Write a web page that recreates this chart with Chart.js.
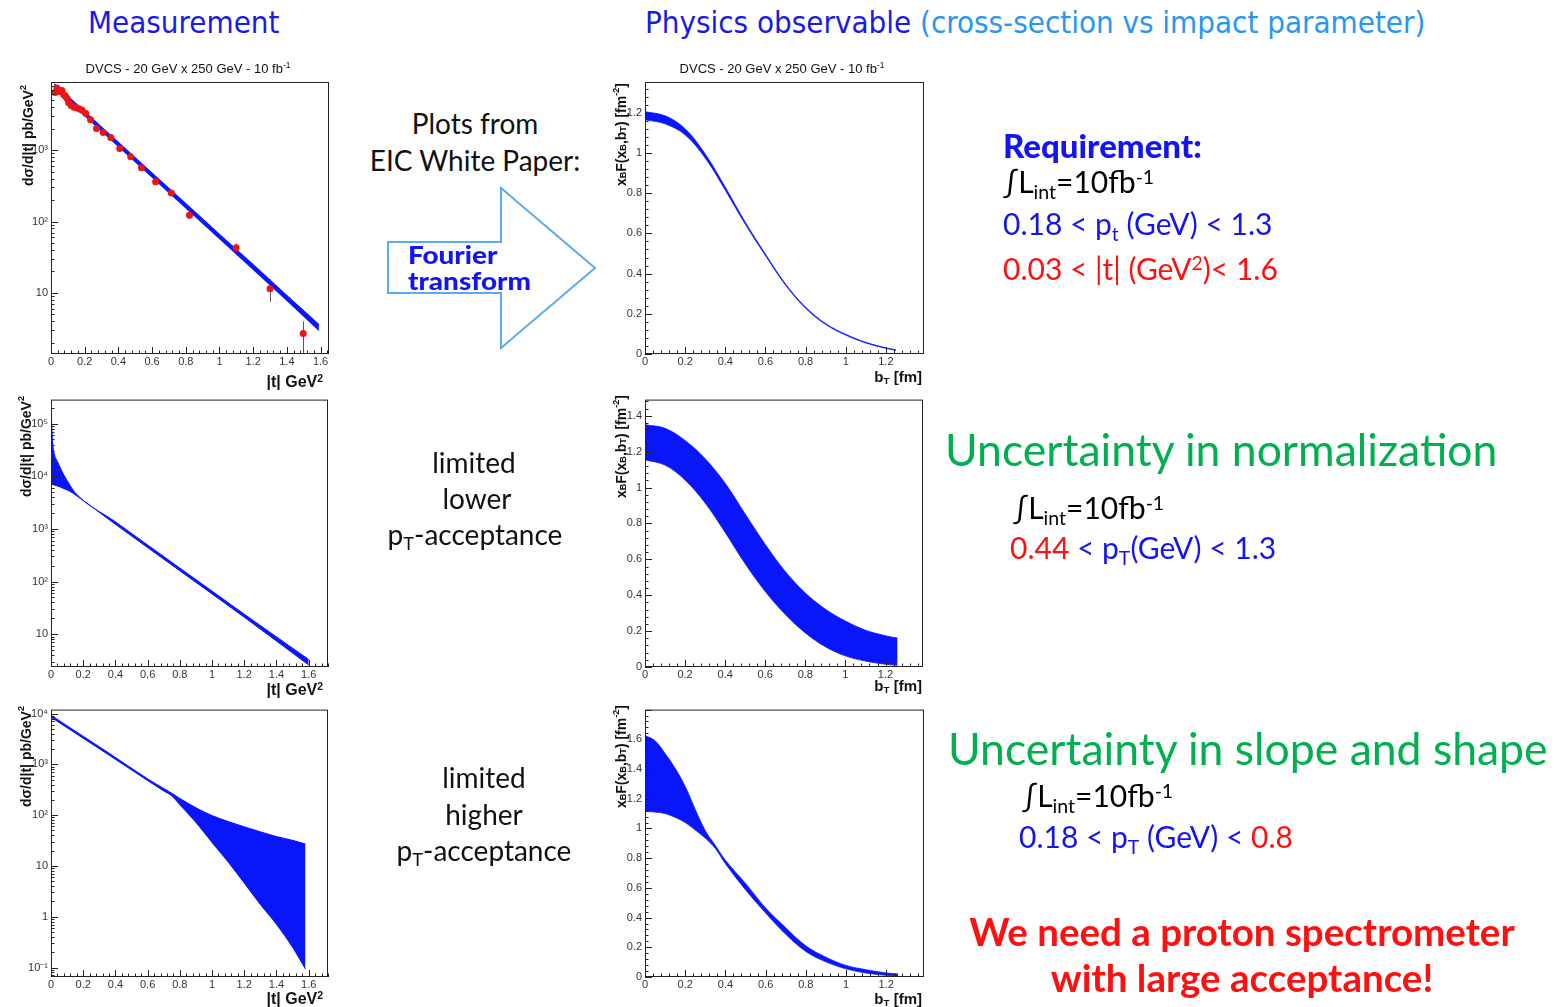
<!DOCTYPE html>
<html lang="en">
  <head>
    <meta charset="utf-8" />
    <title>DVCS acceptance slide</title>
    <style>
      * { margin: 0; padding: 0; }
      body { width: 1558px; height: 1007px; background: #fff; position: relative; overflow: hidden; font-family: Lato, "Open Sans", sans-serif; }
      canvas { position: absolute; }
      .t { position: absolute; white-space: nowrap; line-height: 1; }
      .c { transform: translate(-50%, -50%); }
      .l { transform: translate(0, -50%); }
      .r { transform: translate(-100%, -50%); }
      .yt { position: absolute; white-space: nowrap; line-height: 1; writing-mode: vertical-rl; transform: rotate(180deg);
            font: bold 14px "Liberation Sans", Arial, sans-serif; color: #111; }
      .ax { font: bold 16px "Liberation Sans", Arial, sans-serif; color: #111; }
      .ax2 { font: bold 15px "Liberation Sans", Arial, sans-serif; color: #111; }
      .pt { font: 13px "Liberation Sans", Arial, sans-serif; color: #111; }
      .hd { font-family: "DejaVu Sans Condensed", "DejaVu Sans", sans-serif; font-stretch: condensed; font-size: 31px; }
      .mid { font-size: 28px; color: #111; }
      .req { font-size: 30px; }
      .green { font-size: 44.5px; color: #00b050; }
      .big { font-size: 38.5px; font-weight: bold; color: #ff1010; }
      .ft { font-size: 24px; font-weight: 900; transform-origin: left center; transform: translate(0, -50%) scaleX(1.16); }
      sub { font-size: 0.65em; vertical-align: -0.3em; }
      sup { font-size: 0.65em; vertical-align: 0.5em; }
      .blue { color: #1414f0; }
      .red { color: #ff1010; }
    </style>
  </head>
  <body>
    <canvas id="c1" width="340" height="335" style="left:0;top:55px"></canvas>
    <canvas id="c2" width="340" height="335" style="left:600px;top:55px"></canvas>
    <canvas id="c3" width="340" height="310" style="left:0;top:390px"></canvas>
    <canvas id="c4" width="340" height="310" style="left:600px;top:390px"></canvas>
    <canvas id="c5" width="340" height="307" style="left:0;top:700px"></canvas>
    <canvas id="c6" width="340" height="307" style="left:600px;top:700px"></canvas>

    <!-- headers -->
    <div class="t l hd" style="left:88px;top:22px;color:#1a1ae6">Measurement</div>
    <div class="t l hd" style="left:645px;top:22px;color:#1a1ae6">Physics observable <span style="color:#2a96ee">(cross-section vs impact parameter)</span></div>

    <!-- plot titles -->
    <div class="t c pt" style="left:188px;top:68px">DVCS - 20 GeV x 250 GeV - 10 fb<sup>-1</sup></div>
    <div class="t c pt" style="left:782px;top:68px">DVCS - 20 GeV x 250 GeV - 10 fb<sup>-1</sup></div>

    <!-- axis titles -->
    <div class="yt" style="left:18px;top:85px">dσ/d|t| pb/GeV<sup>2</sup></div>
    <div class="yt" style="left:16px;top:396px">dσ/d|t| pb/GeV<sup>2</sup></div>
    <div class="yt" style="left:16px;top:706px">dσ/d|t| pb/GeV<sup>2</sup></div>
    <div class="yt" style="left:611px;top:83px">x<sub>B</sub>F(x<sub>B</sub>,b<sub>T</sub>) [fm<sup>-2</sup>]</div>
    <div class="yt" style="left:611px;top:395px">x<sub>B</sub>F(x<sub>B</sub>,b<sub>T</sub>) [fm<sup>-2</sup>]</div>
    <div class="yt" style="left:611px;top:705px">x<sub>B</sub>F(x<sub>B</sub>,b<sub>T</sub>) [fm<sup>-2</sup>]</div>
    <div class="t r ax" style="left:323px;top:382px">|t| GeV<sup>2</sup></div>
    <div class="t r ax" style="left:323px;top:690px">|t| GeV<sup>2</sup></div>
    <div class="t r ax" style="left:323px;top:999px">|t| GeV<sup>2</sup></div>
    <div class="t r ax2" style="left:922px;top:377px">b<sub>T</sub> [fm]</div>
    <div class="t r ax2" style="left:922px;top:686px">b<sub>T</sub> [fm]</div>
    <div class="t r ax2" style="left:922px;top:999px">b<sub>T</sub> [fm]</div>

    <!-- middle column -->
    <div class="t c mid" style="left:475px;top:123px">Plots from</div>
    <div class="t c mid" style="left:475px;top:160px">EIC White Paper:</div>
    <svg width="1558" height="1007" style="position:absolute;left:0;top:0;pointer-events:none">
      <polygon points="388,242 501,242 501,188 595,268 501,348 501,293 388,293" fill="none" stroke="#5aaaf0" stroke-width="2" />
    </svg>
    <div class="t ft blue" style="left:408px;top:255px">Fourier</div>
    <div class="t ft blue" style="left:408px;top:281px">transform</div>
    <div class="t c mid" style="left:474px;top:462px">limited</div>
    <div class="t c mid" style="left:477px;top:498px">lower</div>
    <div class="t c mid" style="left:475px;top:536px">p<sub>T</sub>-acceptance</div>
    <div class="t c mid" style="left:484px;top:777px">limited</div>
    <div class="t c mid" style="left:484px;top:814px">higher</div>
    <div class="t c mid" style="left:484px;top:852px">p<sub>T</sub>-acceptance</div>

    <!-- right column -->
    <div class="t l blue" style="left:1003px;top:145px;font-size:33px;font-weight:900">Requirement:</div>
    <div class="t l req" style="left:1003px;top:184px">∫L<sub>int</sub>=10fb<sup>-1</sup></div>
    <div class="t l req blue" style="left:1003px;top:226px">0.18 &lt; p<sub>t</sub> (GeV) &lt; 1.3</div>
    <div class="t l req red" style="left:1003px;top:268px">0.03 &lt; |t| (GeV<sup>2</sup>)&lt; 1.6</div>

    <div class="t l green" style="left:945px;top:449px">Uncertainty in normalization</div>
    <div class="t l req" style="left:1013px;top:510px">∫L<sub>int</sub>=10fb<sup>-1</sup></div>
    <div class="t l req blue" style="left:1010px;top:550px"><span class="red">0.44</span> &lt; p<sub>T</sub>(GeV) &lt; 1.3</div>

    <div class="t l green" style="left:948px;top:748px">Uncertainty in slope and shape</div>
    <div class="t l req" style="left:1022px;top:798px">∫L<sub>int</sub>=10fb<sup>-1</sup></div>
    <div class="t l req blue" style="left:1019px;top:839px">0.18 &lt; p<sub>T</sub> (GeV) &lt; <span class="red">0.8</span></div>

    <div class="t c big" style="left:1242px;top:931px">We need a proton spectrometer</div>
    <div class="t c big" style="left:1242px;top:977px">with large acceptance!</div>

    <script src="https://cdn.jsdelivr.net/npm/chart.js@4.4.0/dist/chart.umd.min.js"></script>
    <script>
      // ---- measurement (top left): data points + fit band
      const measT = [0.025, 0.035, 0.045, 0.055, 0.065, 0.075, 0.085, 0.095, 0.105, 0.12, 0.135, 0.15, 0.17, 0.185,
                     0.207, 0.235, 0.27, 0.31, 0.355, 0.408, 0.473, 0.537, 0.621, 0.714, 0.822, 1.099, 1.3, 1.497];
      const measXsec = [6400, 7400, 6900, 6600, 6800, 6000, 5700, 5300, 4600, 4200, 4000, 3900, 3750, 3600,
                        3260, 2650, 2000, 1760, 1500, 1050, 807, 565, 359, 251, 122, 43, 11.5, 2.7];
      const measErr = [150, 160, 150, 150, 150, 140, 130, 120, 110, 100, 100, 95, 90, 90,
                       80, 70, 60, 55, 50, 40, 35, 28, 22, 18, 12, 6, 4, 1.3];
      const fitT = [0.02, 0.2, 0.4, 0.6, 0.8, 1.0, 1.2, 1.4, 1.59];
      const fitLow = [7400, 3050, 1130, 420, 156, 58, 21.5, 7.9, 3.0];
      const fitHigh = [8400, 3450, 1280, 475, 178, 66, 24.8, 9.2, 3.6];

      // ---- physics observable (top right)
      const bT1 = [0, 0.1, 0.2, 0.3, 0.4, 0.5, 0.6, 0.7, 0.8, 0.9, 1.0, 1.1, 1.2, 1.25];
      const fb1Low = [1.165, 1.145, 1.09, 0.975, 0.815, 0.645, 0.49, 0.343, 0.228, 0.147, 0.094, 0.055, 0.028, 0.018];
      const fb1High = [1.205, 1.185, 1.12, 0.995, 0.83, 0.655, 0.497, 0.348, 0.233, 0.151, 0.098, 0.058, 0.031, 0.021];

      // ---- limited lower pT acceptance
      const tMid = [0, 0.005, 0.01, 0.02, 0.04, 0.06, 0.08, 0.1, 0.12, 0.15, 0.4, 0.8, 1.2, 1.6];
      const midHigh = [200000, 90000, 45000, 27000, 19000, 14000, 10500, 8300, 6600, 4850, 1360, 180, 24, 3.3];
      const midLow = [7400, 7200, 7000, 6800, 6500, 6200, 5800, 5500, 5100, 4450, 1220, 160, 21, 2.6];
      const bT2 = [0, 0.1, 0.2, 0.3, 0.4, 0.5, 0.6, 0.7, 0.8, 0.9, 1.0, 1.1, 1.2, 1.26];
      const fb2High = [1.35, 1.33, 1.262, 1.161, 1.024, 0.852, 0.683, 0.532, 0.412, 0.322, 0.256, 0.205, 0.174, 0.161];
      const fb2Low = [1.155, 1.125, 1.042, 0.914, 0.75, 0.575, 0.421, 0.293, 0.19, 0.113, 0.062, 0.033, 0.015, 0.01];

      // ---- limited higher pT acceptance
      const tLow = [0, 0.35, 0.6, 0.7, 0.75, 0.8, 0.9, 1.0, 1.1, 1.2, 1.3, 1.4, 1.5, 1.58];
      const lowHigh = [9300, 1750, 520, 335, 270, 214, 140, 98, 75, 59, 47, 38, 32, 27];
      const lowLow = [8500, 1600, 480, 300, 240, 160, 72, 29, 12, 4.6, 1.74, 0.71, 0.25, 0.093];
      const bT3 = [0, 0.05, 0.1, 0.15, 0.2, 0.25, 0.3, 0.35, 0.4, 0.5, 0.6, 0.7, 0.8, 0.9, 1.0, 1.1, 1.2, 1.26];
      const fb3High = [1.625, 1.59, 1.504, 1.405, 1.283, 1.128, 0.985, 0.885, 0.786, 0.63, 0.465, 0.332, 0.21, 0.133, 0.078, 0.049, 0.027, 0.02];
      const fb3Low = [1.115, 1.11, 1.1, 1.075, 1.04, 0.99, 0.935, 0.865, 0.763, 0.587, 0.431, 0.288, 0.172, 0.102, 0.055, 0.027, 0.011, 0.005];

      // tick labels
      const tTicks = [0, 0.2, 0.4, 0.6, 0.8, 1, 1.2, 1.4, 1.6];
      const bTicks = [0, 0.2, 0.4, 0.6, 0.8, 1, 1.2];
      const logTicks1 = [10, 100, 1000];
      const logTicks2 = [10, 100, 1000, 10000, 100000];
      const logTicks3 = [0.1, 1, 10, 100, 1000, 10000];
      const fTicks1 = [0, 0.2, 0.4, 0.6, 0.8, 1, 1.2];
      const fTicks2 = [0, 0.2, 0.4, 0.6, 0.8, 1, 1.2, 1.4];
      const fTicks3 = [0, 0.2, 0.4, 0.6, 0.8, 1, 1.2, 1.4, 1.6];

      const BLUE = "rgb(10, 22, 250)";
      const SUP = { "-": "⁻", "0": "⁰", "1": "¹", "2": "²", "3": "³", "4": "⁴", "5": "⁵" };

      const pts = (xs, ys) => xs.map((x, i) => ({ x: x, y: ys[i] }));

      function logLabel(v) {
        const e = Math.round(Math.log10(v));
        if (e === 0) return "1";
        if (e === 1) return "10";
        return "10" + String(e).split("").map((c) => SUP[c]).join("");
      }

      // ROOT-like frame with inside tick marks
      const rootFrame = {
        id: "rootFrame",
        afterDatasetsDraw(chart) {
          const { ctx, chartArea: { left, right, top, bottom }, scales: { x, y } } = chart;
          ctx.save();
          ctx.strokeStyle = "#222";
          ctx.lineWidth = 1;
          ctx.strokeRect(left + 0.5, top + 0.5, right - left - 1, bottom - top - 1);
          ctx.beginPath();
          for (let i = 0; i * 0.04 <= x.max + 1e-9; i++) {
            const px = Math.round(x.getPixelForValue(i * 0.04)) + 0.5;
            const len = i % 5 === 0 ? 7 : 3.5;
            ctx.moveTo(px, bottom);
            ctx.lineTo(px, bottom - len);
          }
          if (y.type === "logarithmic") {
            for (let e = Math.floor(Math.log10(y.min)); e <= Math.ceil(Math.log10(y.max)); e++) {
              for (let k = 1; k <= 9; k++) {
                const v = k * Math.pow(10, e);
                if (v < y.min || v > y.max) continue;
                const py = Math.round(y.getPixelForValue(v)) + 0.5;
                ctx.moveTo(left, py);
                ctx.lineTo(left + (k === 1 ? 7 : 3.5), py);
              }
            }
          } else {
            for (let i = 0; i * 0.04 <= y.max + 1e-9; i++) {
              const py = Math.round(y.getPixelForValue(i * 0.04)) + 0.5;
              ctx.moveTo(left, py);
              ctx.lineTo(left + (i % 5 === 0 ? 7 : 3.5), py);
            }
          }
          ctx.stroke();
          ctx.restore();
        },
      };

      // vertical error bars for datasets carrying an "errors" array
      const errBars = {
        id: "errBars",
        beforeDatasetsDraw(chart) {
          const { ctx, chartArea, scales: { y } } = chart;
          ctx.save();
          ctx.beginPath();
          ctx.rect(chartArea.left, chartArea.top, chartArea.right - chartArea.left, chartArea.bottom - chartArea.top);
          ctx.clip();
          ctx.strokeStyle = "#555";
          ctx.lineWidth = 1;
          chart.data.datasets.forEach((ds, di) => {
            if (!ds.errors) return;
            const meta = chart.getDatasetMeta(di);
            meta.data.forEach((el, i) => {
              const v = ds.data[i].y;
              const lo = Math.max(v - ds.errors[i], 1e-3);
              ctx.beginPath();
              ctx.moveTo(Math.round(el.x) + 0.5, y.getPixelForValue(lo));
              ctx.lineTo(Math.round(el.x) + 0.5, y.getPixelForValue(v + ds.errors[i]));
              ctx.stroke();
            });
          });
          ctx.restore();
        },
      };

      // smooth: "monotone" for log plots, spline tension for linear ones
      function band(xs, lo, hi, width, smooth) {
        const curve = smooth === "monotone" ? { cubicInterpolationMode: "monotone" } : { tension: 0.35 };
        return [
          Object.assign({ data: pts(xs, lo), borderColor: BLUE, borderWidth: width, pointRadius: 0, fill: false, order: 2 }, curve),
          Object.assign({ data: pts(xs, hi), borderColor: BLUE, borderWidth: width, pointRadius: 0, fill: "-1",
            backgroundColor: BLUE, order: 2 }, curve),
        ];
      }

      const tickFont = { family: "Liberation Sans", size: 11 };

      function makeChart(id, o) {
        return new Chart(document.getElementById(id), {
          type: "line",
          data: { datasets: o.datasets },
          options: {
            responsive: false,
            animation: false,
            layout: { padding: { top: o.padTop, right: o.padRight, left: 0, bottom: 0 } },
            plugins: { legend: { display: false }, tooltip: { enabled: false } },
            scales: {
              x: {
                type: "linear", min: 0, max: o.xMax,
                afterFit(s) { s.height = o.xH; },
                afterBuildTicks(s) { s.ticks = o.xTicks.map((v) => ({ value: v })); },
                grid: { display: false, drawTicks: false },
                border: { display: false },
                ticks: { padding: 1, font: tickFont, color: "#333", autoSkip: false, maxRotation: 0,
                         callback: (v) => String(Number(v.toFixed(1))) },
              },
              y: {
                type: o.yLog ? "logarithmic" : "linear", min: o.yMin, max: o.yMax,
                afterFit(s) { s.width = o.yW; },
                afterBuildTicks(s) { s.ticks = o.yTicks.map((v) => ({ value: v })); },
                grid: { display: false, drawTicks: false },
                border: { display: false },
                ticks: { padding: 3, font: tickFont, color: "#333", autoSkip: false,
                         callback: (v) => (o.yLog ? logLabel(v) : String(Number(v.toFixed(1)))) },
              },
            },
          },
          plugins: [rootFrame, errBars],
        });
      }

      makeChart("c1", {
        padTop: 27, padRight: 11, xH: 36, yW: 51, xMax: 1.65, xTicks: tTicks,
        yLog: true, yMin: 1.4, yMax: 8970, yTicks: logTicks1,
        datasets: [
          { data: pts(measT, measXsec), errors: measErr, showLine: false, pointRadius: 3.5,
            pointBackgroundColor: "#ee1414", pointBorderWidth: 0, order: 0 },
          ...band(fitT, fitLow, fitHigh, 1.2, "monotone"),
        ],
      });
      makeChart("c2", {
        padTop: 27, padRight: 16, xH: 36, yW: 45, xMax: 1.39, xTicks: bTicks,
        yLog: false, yMin: 0, yMax: 1.353, yTicks: fTicks1,
        datasets: band(bT1, fb1Low, fb1High, 0.8, "spline"),
      });
      makeChart("c3", {
        padTop: 5, padRight: 12, xH: 33, yW: 51, xMax: 1.72, xTicks: tTicks,
        yLog: true, yMin: 2.38, yMax: 285000, yTicks: logTicks2,
        datasets: band(tMid, midLow, midHigh, 1, "monotone"),
      });
      makeChart("c4", {
        padTop: 5, padRight: 17, xH: 33, yW: 45, xMax: 1.387, xTicks: bTicks,
        yLog: false, yMin: 0, yMax: 1.49, yTicks: fTicks2,
        datasets: band(bT2, fb2Low, fb2High, 0.8, "spline"),
      });
      makeChart("c5", {
        padTop: 5, padRight: 12, xH: 30, yW: 51, xMax: 1.72, xTicks: tTicks,
        yLog: true, yMin: 0.065, yMax: 12000, yTicks: logTicks3,
        datasets: band(tLow, lowLow, lowHigh, 1, "monotone"),
      });
      makeChart("c6", {
        padTop: 5, padRight: 16, xH: 30, yW: 45, xMax: 1.388, xTicks: bTicks,
        yLog: false, yMin: 0, yMax: 1.8, yTicks: fTicks3,
        datasets: band(bT3, fb3Low, fb3High, 0.8, "spline"),
      });
    </script>
  </body>
</html>
